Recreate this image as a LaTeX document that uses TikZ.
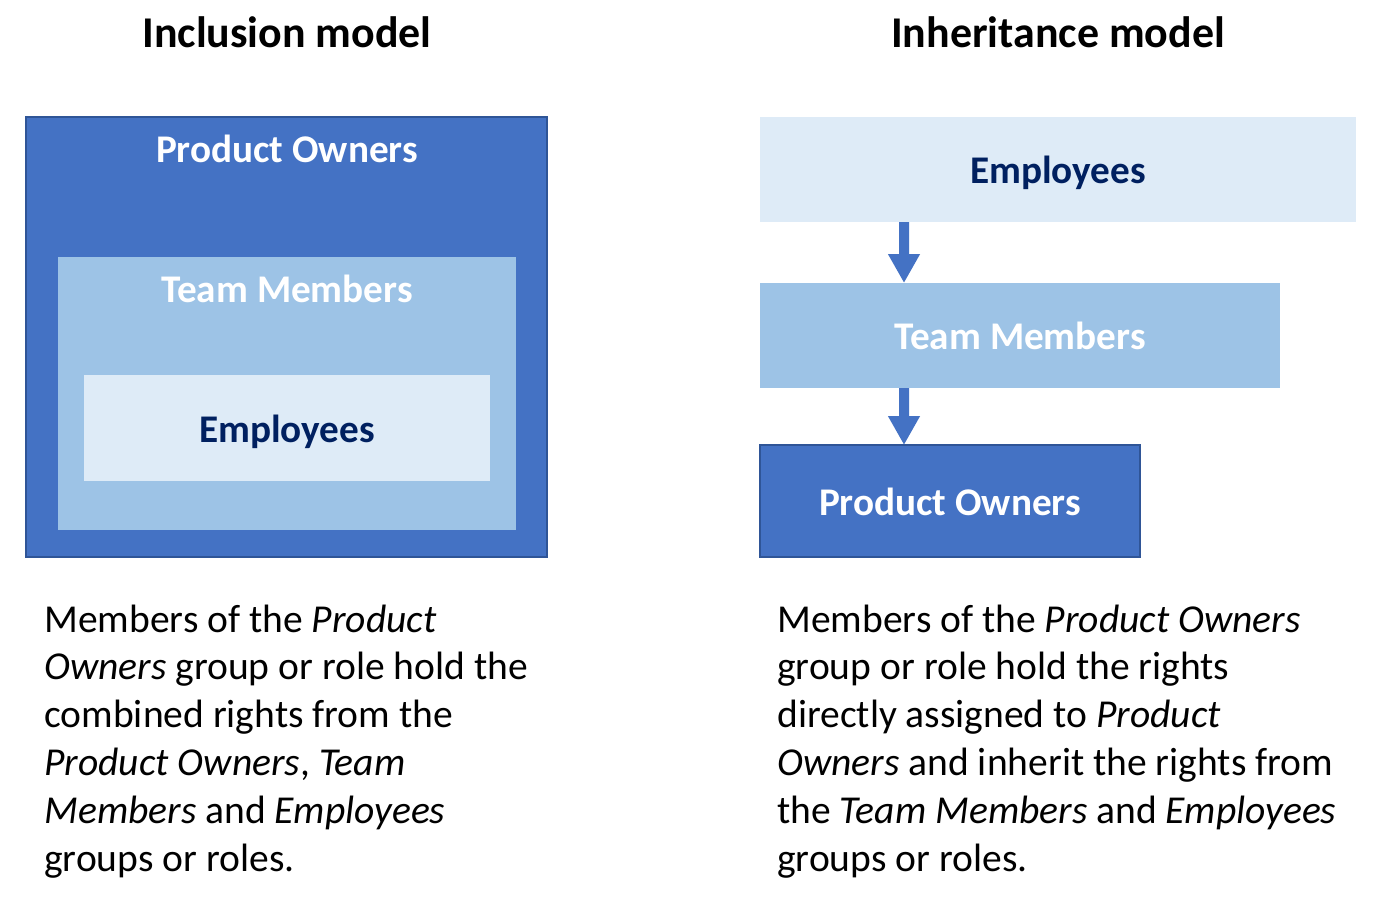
\documentclass[tikz,border=0pt]{standalone}
\usepackage{fontspec}
\setmainfont{Carlito}
\usetikzlibrary{arrows.meta,positioning,calc}
\definecolor{RoleDark}{HTML}{4472C4}
\definecolor{RoleEdge}{HTML}{2F5597}
\definecolor{RoleMid}{HTML}{9DC3E6}
\definecolor{RoleLight}{HTML}{DEEBF7}
\definecolor{RoleNavy}{HTML}{002060}

\begin{document}
\begin{tikzpicture}[
    box/.style={rectangle,inner sep=0pt,outer sep=0pt,text height=20pt,text depth=4pt,font=\fontsize{22.3}{27.2}\selectfont\bfseries},
    pobox/.style={box,fill=RoleDark,draw=RoleEdge,line width=0.04cm,text=white},
    tmbox/.style={box,fill=RoleMid,text=white},
    embox/.style={box,fill=RoleLight,text=RoleNavy},
    label/.style={inner sep=0pt,anchor=base,font=\fontsize{22.3}{27.2}\selectfont\bfseries},
    title/.style={inner sep=0pt,anchor=base,font=\fontsize{25}{30}\selectfont\bfseries},
    body/.style={inner sep=0pt,anchor=base west,align=left,font=\fontsize{22.5}{27.2}\selectfont},
    arr/.style={-{Triangle[width=0.6cm,length=0.58cm]},line width=0.2cm,RoleDark}
  ]
    \useasboundingbox[fill=white] (0,0) rectangle (27.58,-17.98);

    % inclusion model
    \node[title] (lt) at (5.74,-0.94) {Inclusion model};
    \node[pobox,minimum width=10.42cm,minimum height=8.80cm] (p1) at (5.73,-6.74) {};
    \node[tmbox,minimum width=9.16cm,minimum height=5.46cm] (t1) at (5.74,-7.87) {};
    \node[embox,minimum width=8.12cm,minimum height=2.12cm] (e1) at (5.74,-8.56) {Employees};
    \node[label,text=white] (p1l) at (5.74,-3.24) {Product Owners};
    \node[label,text=white] (t1l) at (5.74,-6.04) {Team Members};
    \node[body] (lb) at (0.88,-17.42) {Members of the \textit{Product}\\
      \textit{Owners} group or role hold the\\
      combined rights from the\\
      \textit{Product Owners}, \textit{Team}\\
      \textit{Members} and \textit{Employees}\\
      groups or roles.};

    % inheritance model
    \node[title] (rt) at (21.16,-0.94) {Inheritance model};
    \node[embox,minimum width=11.92cm,minimum height=2.10cm] (e2) at (21.16,-3.39) {Employees};
    \node[tmbox,minimum width=10.40cm,minimum height=2.10cm] (t2) at (20.40,-6.71) {Team Members};
    \node[pobox,minimum width=7.60cm,minimum height=2.24cm] (p2) at (19.00,-10.02) {Product Owners};
    \draw[arr] ([xshift=2.88cm]e2.south west) -- ([xshift=2.88cm]t2.north west);
    \draw[arr] ([xshift=2.88cm]t2.south west) -- ([xshift=2.88cm]p2.north west);
    \node[body] (rb) at (15.54,-17.42) {Members of the \textit{Product Owners}\\
      group or role hold the rights\\
      directly assigned to \textit{Product}\\
      \textit{Owners} and inherit the rights from\\
      the \textit{Team Members} and \textit{Employees}\\
      groups or roles.};
  \end{tikzpicture}
\end{document}
